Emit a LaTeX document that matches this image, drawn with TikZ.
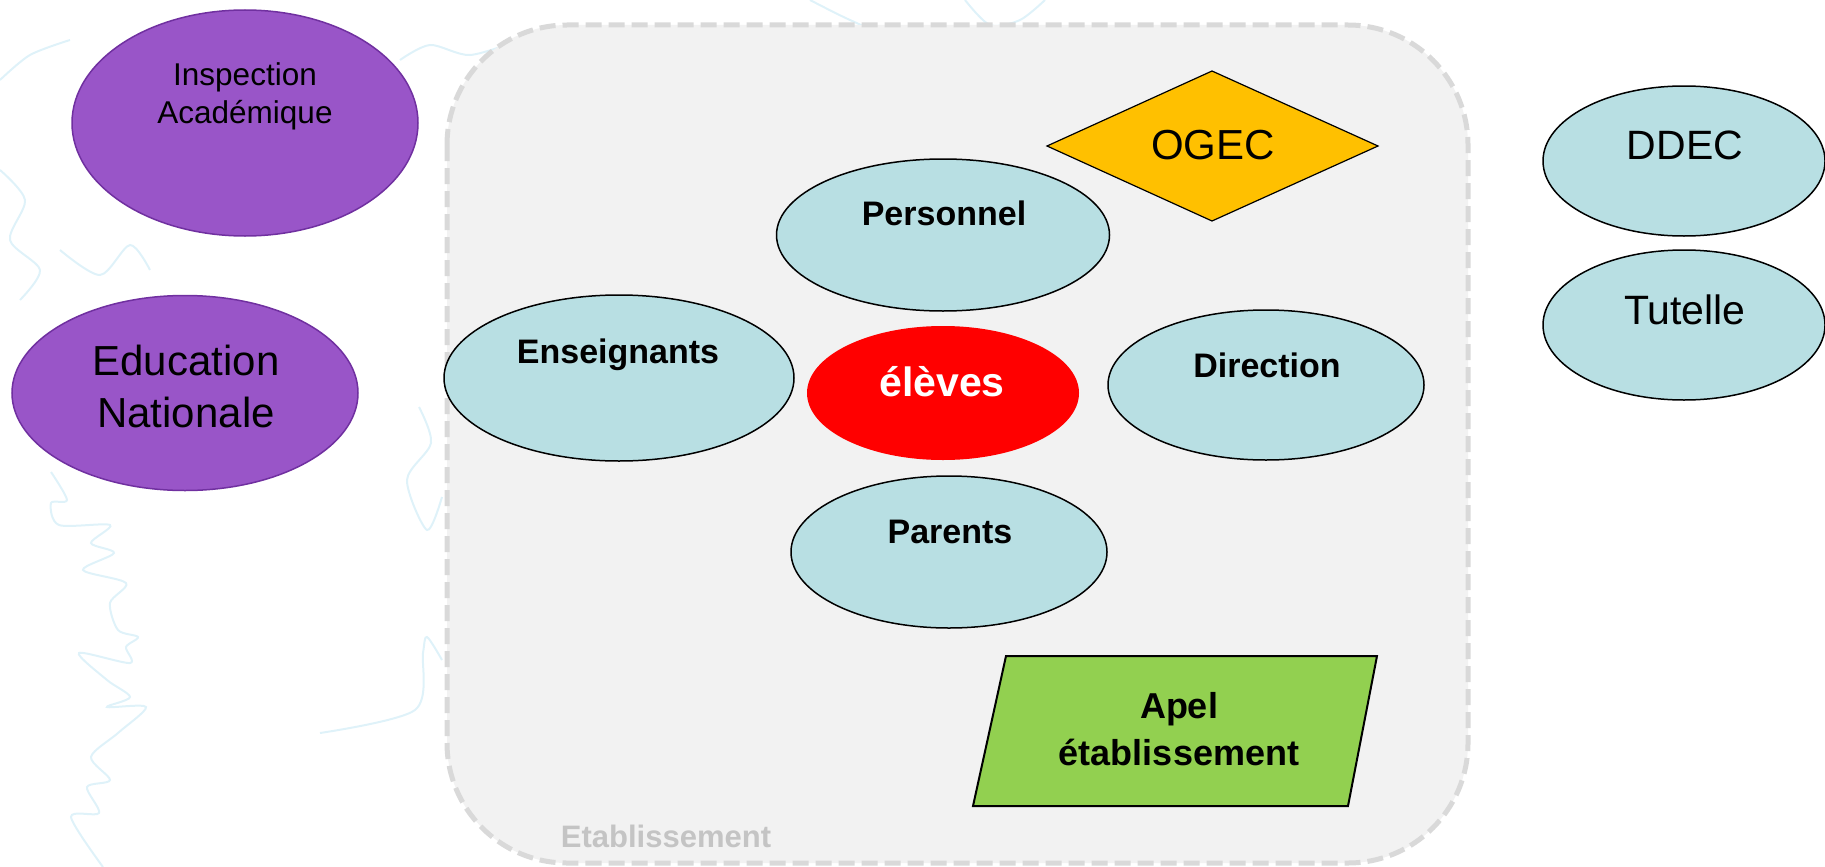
\documentclass[tikz,border=0pt]{standalone}
\usepackage{fontspec}
\setmainfont{Liberation Sans}
\usetikzlibrary{shapes.geometric}
\definecolor{purp}{HTML}{9955C8}
\definecolor{purpline}{HTML}{7030A0}
\definecolor{lblue}{HTML}{B8DFE3}
\definecolor{ogecc}{HTML}{FFC000}
\definecolor{apelc}{HTML}{92D050}
\definecolor{boxfill}{HTML}{F2F2F2}
\definecolor{boxline}{HTML}{D9D9D9}
\definecolor{etabc}{HTML}{C4C4C4}
\definecolor{leafc}{HTML}{DFF2F9}
\begin{document}
\begin{tikzpicture}[x=1pt,y=-1pt,
  purpell/.style={ellipse, fill=purp, draw=purpline, line width=1.5pt, inner sep=0pt},
  blueell/.style={ellipse, fill=lblue, draw=black, line width=1.5pt, inner sep=0pt},
  lbl/.style={anchor=base, inner sep=0pt, align=center},
  leaf/.style={draw=leafc, line width=2pt}]
\useasboundingbox (0,0) rectangle (1825,867);
% background decoration
\draw[leaf] plot[smooth] coordinates {(51,472) (67,500) (51,503) (59,525) (110,525) (91,543) (114,553) (83,570) (126,583) (110,603) (118,630) (138,637) (126,647) (130,663) (79,653) (107,680) (130,697) (107,707) (146,707) (118,733) (91,757) (110,780) (87,787) (99,813) (71,817) (103,867)};
\draw[leaf] plot[smooth] coordinates {(320,733) (415,710) (423,653) (427,637) (442,660)};
\draw[leaf] plot[smooth] coordinates {(419,407) (431,443) (407,480) (427,530) (442,497)};
\draw[leaf] plot[smooth] coordinates {(0,80) (30,55) (70,40)};
\draw[leaf] plot[smooth] coordinates {(0,170) (25,200) (10,240) (40,270) (20,300)};
\draw[leaf] plot[smooth] coordinates {(400,60) (430,45) (470,55) (520,40)};
\draw[leaf] plot[smooth] coordinates {(810,0) (850,20) (900,40) (930,30)};
\draw[leaf] plot[smooth] coordinates {(965,0) (990,25) (1020,20) (1045,0)};
\draw[leaf] plot[smooth] coordinates {(60,250) (100,275) (130,245) (150,270)};
% Etablissement box
\draw[draw=boxline, fill=boxfill, line width=5pt, dash pattern=on 16pt off 7pt, rounded corners=120pt] (447,25) rectangle (1468,863);
\node[lbl, text=etabc, font=\fontsize{31}{36}\selectfont\bfseries] (etab) at (666,847) {Etablissement};
% outside nodes
\node[purpell, minimum width=346pt, minimum height=226pt] (insp) at (245,123) {};
\node[lbl, font=\fontsize{31.5}{38}\selectfont] (inspt) at (245,123) {Inspection\\Académique};
\node[purpell, minimum width=346pt, minimum height=195pt] (edu) at (185,393) {};
\node[lbl, font=\fontsize{42}{52}\selectfont] (edut) at (186,427) {Education\\Nationale};
\node[blueell, minimum width=282pt, minimum height=150pt] (ddec) at (1684,161) {};
\node[lbl, font=\fontsize{41}{48}\selectfont] (ddect) at (1685,159) {DDEC};
\node[blueell, minimum width=282pt, minimum height=150pt] (tut) at (1684,325) {};
\node[lbl, font=\fontsize{41}{48}\selectfont] (tutt) at (1685,324) {Tutelle};
% inside nodes
\draw[fill=ogecc, draw=black, line width=1.2pt] (1047,146) -- (1212,71) -- (1378,146) -- (1212,221) -- cycle;
\node[lbl, font=\fontsize{42}{48}\selectfont] (ogec) at (1213,159) {OGEC};
\node[blueell, minimum width=333pt, minimum height=152pt] (pers) at (943,235) {};
\node[lbl, font=\fontsize{34}{40}\selectfont\bfseries] (perst) at (944,225) {Personnel};
\node[blueell, minimum width=350pt, minimum height=166pt] (ens) at (619,378) {};
\node[lbl, font=\fontsize{34}{40}\selectfont\bfseries] (enst) at (618,363) {Enseignants};
\node[ellipse, fill=red, inner sep=0pt, minimum width=272pt, minimum height=134pt] (elev) at (943,393) {};
\node[lbl, text=white, font=\fontsize{41}{48}\selectfont\bfseries] (elevt) at (942,396) {élèves};
\node[blueell, minimum width=316pt, minimum height=150pt] (dir) at (1266,385) {};
\node[lbl, font=\fontsize{34}{40}\selectfont\bfseries] (dirt) at (1267,377) {Direction};
\node[blueell, minimum width=316pt, minimum height=152pt] (par) at (949,552) {};
\node[lbl, font=\fontsize{34}{40}\selectfont\bfseries] (part) at (950,543) {Parents};
\draw[fill=apelc, draw=black, line width=2pt] (1006,656) -- (1377,656) -- (1348,806) -- (973,806) -- cycle;
\node[lbl, font=\fontsize{36}{47}\selectfont\bfseries] (apel) at (1179,765) {Apel\\établissement};
\end{tikzpicture}
\end{document}
